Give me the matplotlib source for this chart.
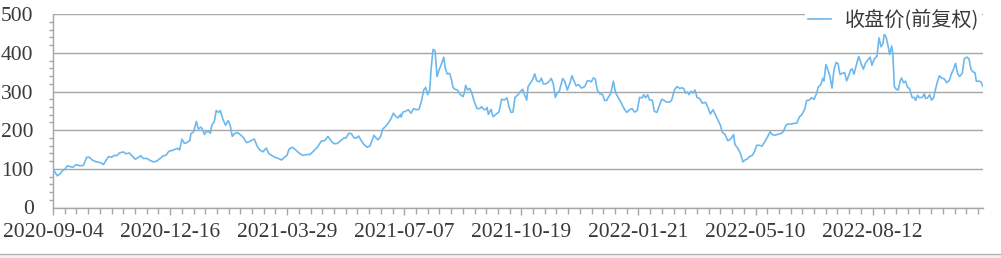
import matplotlib
matplotlib.use("Agg")
import matplotlib.pyplot as plt
from matplotlib.ticker import MultipleLocator, FixedLocator
from matplotlib.patches import Rectangle

# ── Data (trading-day index, close price) ─────────────────────────────

DAYS = [
    0, 2.6, 4.2, 5.8, 7.2, 8.6, 10.2, 11.8, 13.8, 16.1, 18.1, 18.9, 20.1, 21.7,
    23.7, 26.1, 28.5, 30.1, 31.7, 33.3, 35.1, 36.5, 38.1, 39.7, 42.1, 43.6,
    45.6, 47.6, 49.2, 51.2, 52.4, 54.0, 56.0, 58.0, 60.0, 62.0, 64.0, 66.0,
    67.6, 69.0, 70.0,
    71.1, 73.1, 74.5, 75.7, 77.1, 78.5, 80.1, 81.7, 82.5, 84.1, 85.7, 86.9,
    88.5, 89.3, 90.5, 91.7, 93.3, 94.1, 94.9, 96.4, 97.6, 99.0, 100.0, 101.6,
    103.2, 104.8, 106.0, 107.2, 108.8, 110.4, 112.4, 114.0, 115.6, 117.2,
    119.2, 120.4, 122.0, 123.6, 125.5, 127.5, 129.1, 131.1, 132.7, 134.7,
    136.7, 137.9, 139.9,
    141.1, 143.1, 145.1, 147.1, 149.1, 151.7, 153.6, 156.0, 158.4, 160.4,
    162.4, 164.4, 166.4, 168.0, 170.0, 172.0, 174.0, 175.2, 176.8, 178.4,
    180.0, 181.5, 182.7, 184.3, 185.9, 187.9, 189.5, 190.7, 191.9, 193.1,
    194.3, 195.9, 197.1, 198.7, 200.7, 202.3, 203.5, 205.1, 206.3, 207.8,
    208.1, 209.2, 210.8, 212.4, 214.0, 215.6, 217.2, 218.8, 220.4, 221.6,
    222.8, 224.0, 225.2, 226.0, 227.2, 228.4, 229.6, 230.8, 232.4, 233.6,
    234.4, 235.6, 237.1, 238.3, 239.1, 240.3, 241.9, 243.1, 245.1, 245.9,
    246.7, 247.9, 249.1, 250.3, 251.9, 253.5, 255.1, 256.3, 257.5, 258.7,
    259.5, 260.3, 261.9, 263.1, 265.0, 266.6, 268.2, 269.8, 271.4, 272.6,
    273.8, 275.0, 276.2, 277.8,
    279.6, 280.8, 282.0, 283.2, 284.0, 285.6, 286.8, 288.0, 289.2, 290.8,
    292.0, 293.1, 294.7, 296.3, 297.9, 299.1, 300.3, 301.5, 302.7, 304.7,
    305.9, 307.5, 308.7, 310.3, 311.5, 312.7, 314.3, 315.9, 317.9, 319.5,
    320.6, 321.8, 323.0, 324.2, 325.4, 327.0, 328.6, 329.8, 331.0, 332.2,
    333.4, 335.0, 336.2, 337.8, 339.8, 341.4, 343.0, 344.6, 346.2, 347.7,
    349.3,
    350.7, 352.3, 353.1, 354.3, 355.5, 356.7, 358.3, 359.5, 361.1, 362.3,
    363.9, 365.1, 366.7, 368.7, 369.9, 371.5, 373.1, 374.7, 375.9, 377.0,
    378.2, 379.4, 380.2, 381.4, 382.6, 383.8, 385.0, 386.6, 388.2, 390.2,
    391.8, 393.0, 394.6, 395.8, 397.4, 399.0, 400.2, 401.8, 403.4, 404.5,
    405.7, 406.9, 407.7, 409.3, 410.9, 412.5, 413.7, 414.9, 416.5, 418.1,
    419.5, 420.7, 422.3, 423.9, 425.5, 427.1, 428.7, 429.9, 431.5, 433.0,
    435.0, 436.6, 438.2, 439.4, 441.4, 443.4, 444.6, 446.2, 447.8, 449.4,
    450.6, 452.2, 453.4, 455.0, 456.6, 457.4, 459.0, 460.2, 460.9, 462.1,
    463.3, 464.5, 465.7, 466.9, 468.1, 469.3, 470.5, 471.7, 473.3, 474.5,
    475.7, 476.9, 477.7, 478.9, 480.5, 481.7, 483.3, 484.5, 485.7, 487.3,
    488.5, 489.6,
    491.0, 492.6, 493.8, 495.0, 496.2, 497.0, 498.2, 499.4, 500.2, 501.4,
    502.1, 503.0, 504.1, 505.3, 506.5, 507.3, 508.5, 509.7, 510.9, 512.1,
    513.7, 514.9, 515.7, 516.9, 518.1, 519.7, 520.9, 521.7, 522.9, 524.1,
    525.3, 526.5, 527.7, 528.9, 530.0, 531.2, 532.8, 534.4, 536.0, 537.2,
    538.4, 539.6, 540.8, 542.0, 543.6, 544.8, 546.4, 547.6, 548.8, 550.0,
    551.2, 552.0, 553.6, 554.8, 556.0,
]

CLOSE = [
    99, 82, 87, 96, 99, 108, 106, 104, 111, 108, 109, 116, 130, 130,
    122, 118, 116, 111, 122, 132, 130, 135, 134, 141, 144, 139,
    141, 132, 125, 130, 134, 127, 127, 122, 118, 120, 127, 134,
    135, 144, 147,
    147, 151, 153, 149, 177, 166, 168, 173, 191, 196, 223, 203,
    208, 203, 189, 197, 196, 192, 213, 222, 251, 246, 251, 228,
    213, 225, 211, 184, 192, 194, 187, 180, 168, 170,
    175, 177, 159, 149, 144, 154, 139, 134, 130, 127,
    123, 128, 135,
    151, 156, 149, 141, 135, 137, 137, 147, 158, 172,
    173, 184, 172, 165, 166, 173, 180, 180, 192, 191,
    180, 180, 185, 173, 163, 156, 159, 173, 187, 180,
    175, 184, 203, 209, 220, 232, 244, 235, 232, 241,
    234, 247, 249, 253, 244, 256, 253, 254, 277, 304,
    311, 292, 304, 356, 409, 406, 339, 356, 373, 389,
    363, 346, 347, 330, 311, 306, 304, 294, 287, 296,
    316, 304, 308, 297, 273, 256, 256, 261, 254, 253,
    259, 241, 254, 235, 242, 247, 280, 278, 284, 261,
    246, 247, 285, 291,
    301, 306, 291, 278, 313, 323, 332, 346, 328, 325,
    335, 320, 320, 325, 334, 320, 285, 296, 301, 334,
    327, 304, 318, 341, 328, 315, 318, 309, 313, 328,
    328, 325, 335, 333, 304, 294, 292, 277, 277, 287,
    294, 327, 299, 285, 270, 256, 246, 253, 256, 247,
    251,
    285, 284, 292, 284, 292, 278, 278, 249, 246, 261,
    280, 278, 273, 273, 278, 304, 313, 308, 310, 308,
    296, 299, 292, 301, 296, 304, 285, 282, 270, 272,
    256, 242, 253, 242, 227, 213, 194, 189, 173, 175,
    180, 189, 163, 154, 141, 118, 123, 125, 132, 135,
    146, 161, 161, 159, 170, 182, 196, 189, 187, 189,
    191, 196, 213, 216, 216, 218, 218, 234, 241, 254,
    277, 278, 284, 280, 296, 311, 318, 334, 328, 370,
    356, 339, 309, 356, 375, 373, 344, 347, 349, 328,
    341, 356, 359, 345, 373, 391, 370, 358, 373, 383,
    389, 368,
    385, 391, 439, 416, 425, 449, 439, 415, 396, 418,
    399, 313, 306, 304, 328, 335, 323, 327, 311, 308,
    284, 285, 277, 290, 284, 285, 294, 282, 284, 292,
    278, 284, 308, 328, 341, 335, 333, 323, 330, 347,
    358, 373, 347, 339, 347, 385, 389, 385, 358, 351,
    349, 327, 327, 325, 313,
]

TICK_DAYS = [0, 70, 140, 210, 280, 350, 420, 490]
TICK_LABELS = ["2020-09-04", "2020-12-16", "2021-03-29", "2021-07-07",
               "2021-10-19", "2022-01-21", "2022-05-10", "2022-08-12"]
N_DAYS = 556
SERIES_NAME = "收盘价(前复权)"

# ── Style ─────────────────────────────────────────────────────────────

LINE_COLOR = "#6db8ee"
GRID_COLOR = "#a6a6a6"
TEXT_COLOR = "#3a3a3a"
TICK_FONT = "Liberation Serif"

W, H = 1001, 258
fig = plt.figure(figsize=(W / 100, H / 100), dpi=100)
ax = fig.add_axes([53 / W, 1 - 207.5 / H, (983 - 53) / W, (207.5 - 14.3) / H])

ax.plot(DAYS, CLOSE, color=LINE_COLOR, lw=1.2, label=SERIES_NAME, zorder=3)

ax.set_xlim(0, N_DAYS)
ax.set_ylim(0, 500)
ax.xaxis.set_major_locator(FixedLocator(TICK_DAYS))
ax.set_xticklabels(TICK_LABELS)
ax.xaxis.set_minor_locator(MultipleLocator(7))
ax.yaxis.set_major_locator(MultipleLocator(100))
ax.yaxis.set_minor_locator(MultipleLocator(20))

ax.grid(axis="y", which="major", color=GRID_COLOR, lw=1.0)
ax.set_axisbelow(True)
for side in ("top", "right"):
    ax.spines[side].set_visible(False)
for side in ("left", "bottom"):
    ax.spines[side].set_color(GRID_COLOR)
    ax.spines[side].set_linewidth(1.0)

ax.tick_params(axis="both", which="both", color=GRID_COLOR, width=1.0,
               direction="out", labelcolor=TEXT_COLOR)
ax.tick_params(axis="x", which="major", length=5, pad=6)
ax.tick_params(axis="x", which="minor", length=4)
ax.tick_params(axis="y", which="major", length=0, pad=14)
ax.tick_params(axis="y", which="minor", length=3)
for lab in ax.get_xticklabels() + ax.get_yticklabels():
    lab.set_fontfamily(TICK_FONT)
    lab.set_fontsize(15.5)

leg = ax.legend(loc="upper right", bbox_to_anchor=(982 / W, 1 - 7 / H),
                bbox_transform=fig.transFigure, frameon=True, fancybox=False,
                edgecolor="none", facecolor="white", framealpha=1,
                handlelength=1.1, handletextpad=0.7, borderpad=0.15,
                borderaxespad=0,
                prop={"family": ["Noto Sans CJK SC", "DejaVu Sans"], "size": 14.5})
for t in leg.get_texts():
    t.set_color(TEXT_COLOR)

# bottom status strip
fig.patches.append(Rectangle((0, 0), 1, 4.5 / H, transform=fig.transFigure,
                             facecolor="#f0f0f0", edgecolor="none"))
fig.lines.append(plt.Line2D([0, 1], [4.5 / H, 4.5 / H], transform=fig.transFigure,
                            color="#b4b4b4", lw=1.0))

fig.savefig("out.png", dpi=100)
